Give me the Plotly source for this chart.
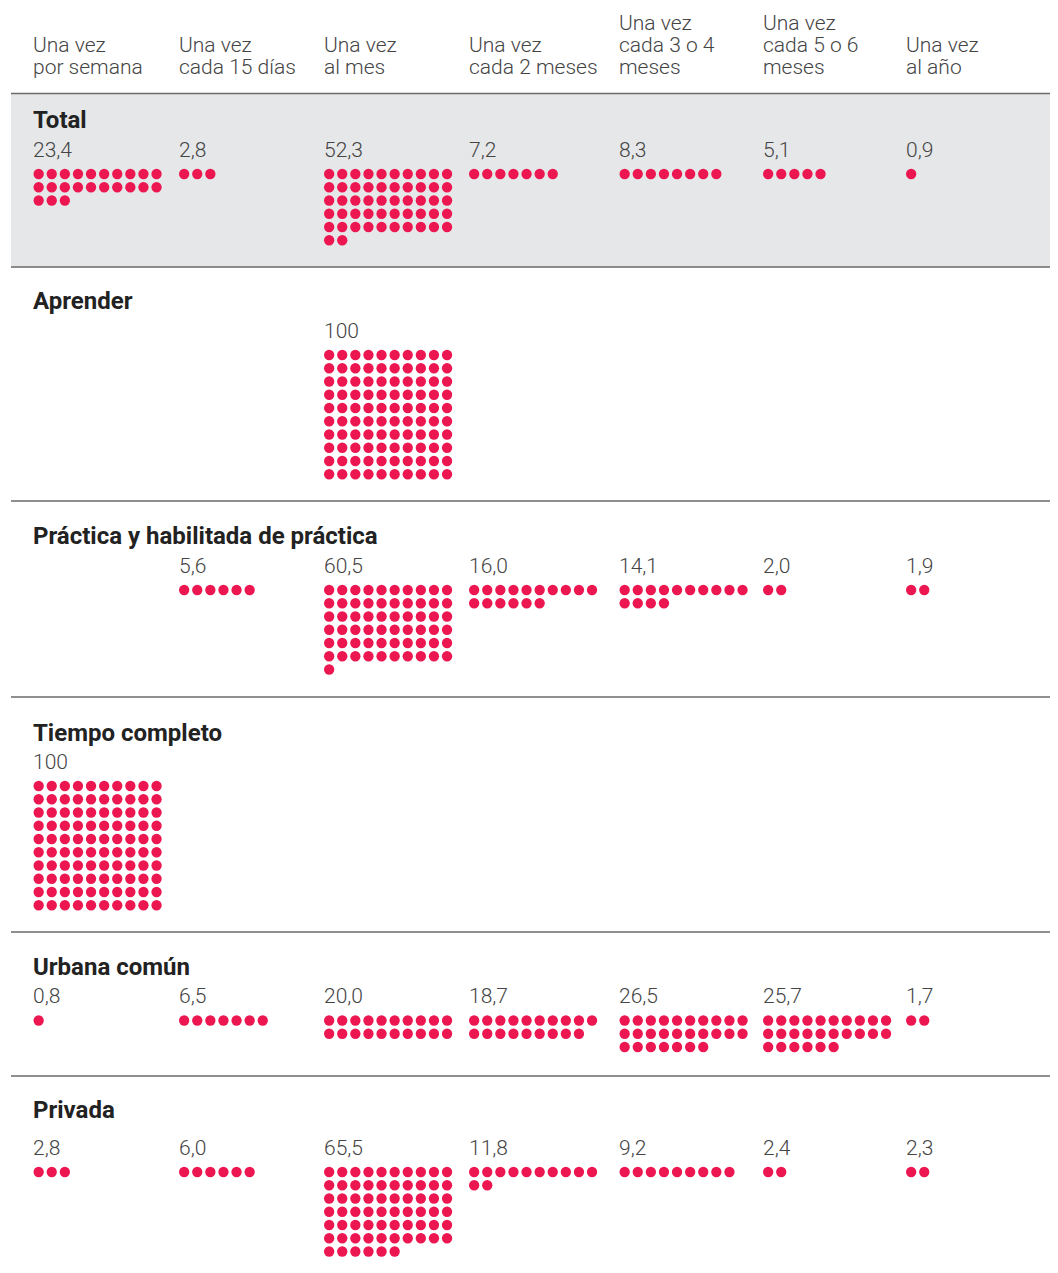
import math
import plotly.graph_objects as go

# ---------------- data ----------------
frequencies = [
    ["Una vez", "por semana"],
    ["Una vez", "cada 15 días"],
    ["Una vez", "al mes"],
    ["Una vez", "cada 2 meses"],
    ["Una vez", "cada 3 o 4", "meses"],
    ["Una vez", "cada 5 o 6", "meses"],
    ["Una vez", "al año"],
]
categories = ["Total", "Aprender", "Práctica y habilitada de práctica",
              "Tiempo completo", "Urbana común", "Privada"]
total = [23.4, 2.8, 52.3, 7.2, 8.3, 5.1, 0.9]
aprender = [None, None, 100, None, None, None, None]
practica = [None, 5.6, 60.5, 16.0, 14.1, 2.0, 1.9]
tiempo_completo = [100, None, None, None, None, None, None]
urbana = [0.8, 6.5, 20.0, 18.7, 26.5, 25.7, 1.7]
privada = [2.8, 6.0, 65.5, 11.8, 9.2, 2.4, 2.3]
series = [total, aprender, practica, tiempo_completo, urbana, privada]

# ---------------- layout constants (page pixels) ----------------
W, H = 1058, 1273
OFF = 8  # page body margin
col_x = [33.5, 179, 324, 469, 619.5, 763, 906]
dot_y0 = [174, 355, 590, 786, 1020.5, 1172]       # first dot row per category
title_base = [128.3, 309, 544.3, 741, 975, 1118]   # title baseline
rules = [93.5, 267, 501, 697, 932, 1076]
DX, DY, DOT = 13.1, 13.25, 10.3
RED = "#EC1650"
FONT = "Roboto"
HS = 21   # light text size
TS = 24   # bold title size
TXT_DX = -2.5  # annotation padding compensation


def fmt(v):
    if v >= 100:
        return f"{v:.0f}"
    return f"{v:.1f}".replace(".", ",")


fig = go.Figure()
annotations = []
shapes = []

# grey band for total
shapes.append(dict(type="rect", xref="x", yref="y", x0=11, x1=W + 2, y0=rules[0], y1=rules[1],
                   fillcolor="#E6E7E9", line=dict(width=0), layer="below"))
for r in rules:
    shapes.append(dict(type="line", xref="x", yref="y", x0=11, x1=W + 2, y0=r, y1=r,
                       line=dict(color="#6a6a6a", width=1.6)))

# headers
for c, lines in enumerate(frequencies):
    n = len(lines)
    for k, ln in enumerate(lines):
        base = 74 - (n - 1 - k) * 21.7
        annotations.append(dict(x=col_x[c] + TXT_DX, y=base - 0.34 * HS, xref="x", yref="y",
                                text=ln, showarrow=False, xanchor="left", yanchor="middle",
                                font=dict(family=FONT, size=HS, color="#444444", weight=300)))

xs, ys = [], []
for r, (cat, vals) in enumerate(zip(categories, series)):
    annotations.append(dict(x=33.5 + TXT_DX, y=title_base[r] - 0.34 * TS, xref="x", yref="y",
                            text=cat, showarrow=False, xanchor="left", yanchor="middle",
                            font=dict(family=FONT, size=TS, color="#222222", weight=700)))
    for c, v in enumerate(vals):
        if v is None:
            continue
        vb = dot_y0[r] - 17.3
        annotations.append(dict(x=col_x[c] + TXT_DX, y=vb - 0.34 * HS, xref="x", yref="y",
                                text=fmt(v), showarrow=False, xanchor="left", yanchor="middle",
                                font=dict(family=FONT, size=HS, color="#444444", weight=300)))
        n = int(math.floor(v + 0.5))
        for i in range(n):
            xs.append(col_x[c] + DOT / 2 + (i % 10) * DX)
            ys.append(dot_y0[r] + (i // 10) * DY)

fig.add_trace(go.Scatter(x=xs, y=ys, mode="markers",
                         marker=dict(size=DOT, color=RED, line=dict(width=0)),
                         hoverinfo="skip", showlegend=False))

fig.update_layout(
    width=W - OFF, height=H - 2 * OFF, margin=dict(l=0, r=0, t=0, b=0),
    paper_bgcolor="white", plot_bgcolor="white",
    xaxis=dict(range=[OFF, W], visible=False, fixedrange=True),
    yaxis=dict(range=[H - OFF, OFF], visible=False, fixedrange=True),
    shapes=shapes, annotations=annotations, showlegend=False,
)
fig.write_html("out.html")
